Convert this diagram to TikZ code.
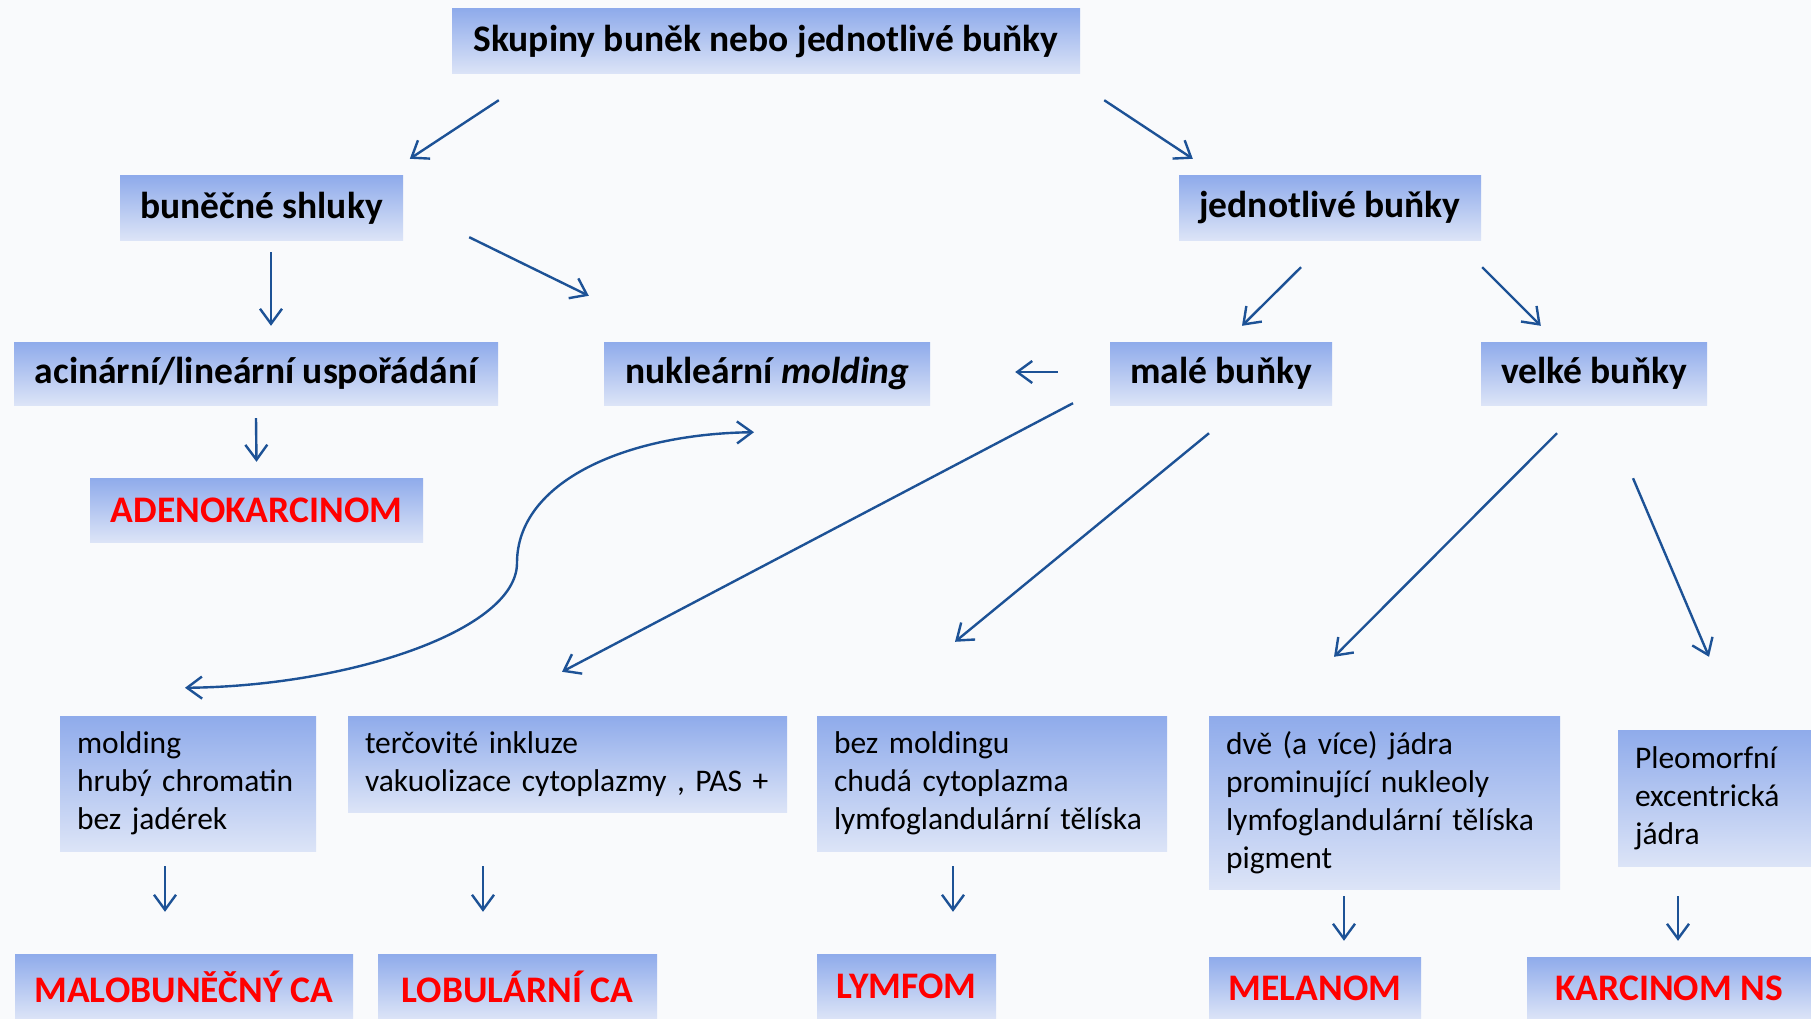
\documentclass[tikz,border=0pt]{standalone}
\usepackage{fontspec}
\setmainfont{Carlito}
\usetikzlibrary{arrows.meta,calc}
\definecolor{boxtop}{HTML}{8FABEB}
\definecolor{boxbot}{HTML}{DCE4F7}
\definecolor{arrblue}{HTML}{1D5296}
\definecolor{redtxt}{HTML}{FF0000}
\definecolor{bgcol}{HTML}{F9FAFC}
\tikzset{
  box/.style={rectangle, top color=boxtop, bottom color=boxbot, draw=none, inner sep=0pt,
    text=black, align=center},
  hdr/.style={box, font=\bfseries\fontsize{37.5}{42}\selectfont},
  res/.style={box, text=redtxt, font=\bfseries\fontsize{37.5}{42}\selectfont},
  desc/.style={box, align=left, font=\fontsize{31.5}{38}\selectfont},
  arr/.style={draw=arrblue, line width=2.4pt, -{Straight Barb[length=15pt,width=22pt,line width=2.4pt]}},
  dblarr/.style={draw=arrblue, line width=2.4pt, {Straight Barb[length=15pt,width=22pt,line width=2.4pt]}-{Straight Barb[length=15pt,width=22pt,line width=2.4pt]}}
}
\begin{document}
\begin{tikzpicture}[x=1pt,y=-1pt]
\fill[bgcol] (0,0) rectangle (1811,1019);
\useasboundingbox (0,0) rectangle (1811,1019);

\node[hdr, minimum width=628pt, minimum height=65pt] (top) at (766,41.5) {Skupiny buněk nebo jednotlivé buňky};
\node[hdr, minimum width=283pt, minimum height=64pt] (shl) at (261.5,208) {buněčné shluky};
\node[hdr, minimum width=302pt, minimum height=64pt] (jed) at (1330,208) {jednotlivé buňky};
\node[hdr, minimum width=484pt, minimum height=63pt] (acin) at (256,373.5) {acinární/lineární uspořádání};
\node[hdr, minimum width=326pt, minimum height=63pt] (nuk) at (767,373.5) {nukleární \textit{molding}};
\node[hdr, minimum width=222pt, minimum height=63pt] (male) at (1221,373.5) {malé buňky};
\node[hdr, minimum width=226pt, minimum height=63pt] (vel) at (1594,373.5) {velké buňky};
\node[res, minimum width=333pt, minimum height=64pt] (aden) at (256.5,510) {ADENOKARCINOM};

\node[desc, minimum width=256pt, minimum height=135pt, text width=222pt] (mold) at (188,783.5) {molding\\hrubý chromatin\\bez jadérek};
\node[desc, minimum width=439pt, minimum height=96pt, text width=405pt] (terc) at (567.5,764) {terčovité inkluze\\vakuolizace cytoplazmy , PAS +};
\node[desc, minimum width=350pt, minimum height=135pt, text width=316pt] (bez) at (992,783.5) {bez moldingu\\chudá cytoplazma\\lymfoglandulární tělíska};
\node[desc, minimum width=351pt, minimum height=173pt, text width=317pt] (dve) at (1384.5,802.5) {dvě (a více) jádra\\prominující nukleoly\\lymfoglandulární tělíska\\pigment};
\node[desc, minimum width=193pt, minimum height=136pt, text width=159pt] (pleo) at (1714.5,798) {Pleomorfní\\excentrická\\jádra};

\node[res, minimum width=338pt, minimum height=65pt] (malo) at (184,986.5) {MALOBUNĚČNÝ CA};
\node[res, minimum width=279pt, minimum height=65pt] (lob) at (517.5,986.5) {LOBULÁRNÍ CA};
\node[res, minimum width=179pt, minimum height=65pt] (lym) at (906.5,986.5) {LYMFOM};
\node[res, minimum width=212pt, minimum height=62pt] (mel) at (1315,988) {MELANOM};
\node[res, minimum width=284pt, minimum height=62pt] (kar) at (1669,988) {KARCINOM NS};

% connectors
\draw[arr] ([shift={(47,26)}]top.south west) -- ([shift={(290,-17)}]shl.north west);
\draw[arr] ([shift={(24,26)}]top.south east) -- ([shift={(14,-17)}]jed.north west);
\draw[arr] ([shift={(9.5,12)}]shl.south) -- ([shift={(15,-16)}]acin.north);
\draw[arr] ([shift={(66,-3)}]shl.south east) -- ([shift={(-15,-46)}]nuk.north west);
\draw[arr] ([shift={(-29,27)}]jed.south) -- ([shift={(21,-16)}]male.north);
\draw[arr] ([shift={(1,27)}]jed.south east) -- ([shift={(60,-16)}]vel.north west);
\draw[arr] ([shift={(0,13)}]acin.south) -- ([shift={(0,-16)}]aden.north);
\draw[arr] ([shift={(-52,-1.5)}]male.west) -- ([shift={(85,-1.5)}]nuk.east);
\draw[dblarr] ([shift={(-3,-28)}]mold.north) .. controls (350,686) and (517,630) .. (517,563) .. controls (517,482) and (625,434) .. ([shift={(-13,27)}]nuk.south);
\draw[arr] ([shift={(-148,-2)}]male.south) -- ([shift={(-5.5,-44)}]terc.north);
\draw[arr] ([shift={(-12,28)}]male.south) -- ([shift={(-37,-74)}]bez.north);
\draw[arr] ([shift={(-37,28)}]vel.south) -- ([shift={(-50.5,-59)}]dve.north);
\draw[arr] ([shift={(39,73)}]vel.south) -- ([shift={(-5.5,-73)}]pleo.north);
\draw[arr] ([shift={(-23,15)}]mold.south) -- ([shift={(-19,-42)}]malo.north);
\draw[arr] ([shift={(-84.5,54)}]terc.south) -- ([shift={(-34.5,-42)}]lob.north);
\draw[arr] ([shift={(-39,15)}]bez.south) -- ([shift={(46.5,-42)}]lym.north);
\draw[arr] ([shift={(-40.5,7)}]dve.south) -- ([shift={(29,-16)}]mel.north);
\draw[arr] ([shift={(-36.5,30)}]pleo.south) -- ([shift={(9,-16)}]kar.north);
\end{tikzpicture}
\end{document}
